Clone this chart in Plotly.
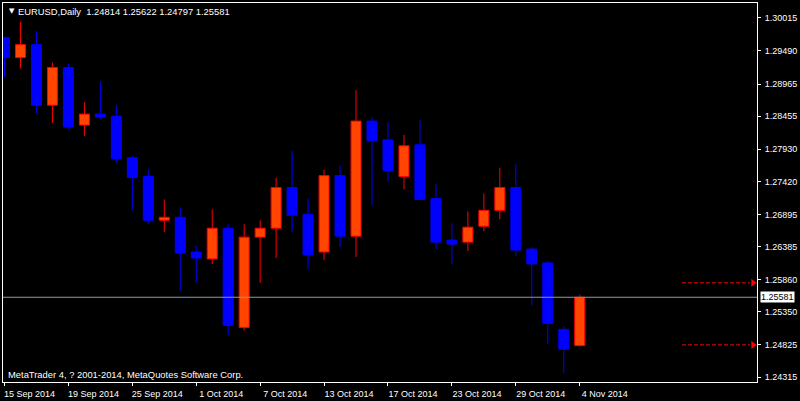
import plotly.graph_objects as go
from datetime import date

# ---- data ----
dates = ["2014-09-15", "2014-09-16", "2014-09-17", "2014-09-18", "2014-09-19",
         "2014-09-22", "2014-09-23", "2014-09-24", "2014-09-25", "2014-09-26",
         "2014-09-29", "2014-09-30", "2014-10-01", "2014-10-02", "2014-10-03",
         "2014-10-06", "2014-10-07", "2014-10-08", "2014-10-09", "2014-10-10",
         "2014-10-13", "2014-10-14", "2014-10-15", "2014-10-16", "2014-10-17",
         "2014-10-20", "2014-10-21", "2014-10-22", "2014-10-23", "2014-10-24",
         "2014-10-27", "2014-10-28", "2014-10-29", "2014-10-30", "2014-10-31",
         "2014-11-03", "2014-11-04"]
opens = [1.29700, 1.29385, 1.29590, 1.28629, 1.29228, 1.28314, 1.28488, 1.28456,
         1.27795, 1.27496, 1.26803, 1.26850, 1.26299, 1.26189, 1.26677, 1.25102,
         1.26535, 1.26677, 1.27322, 1.26897, 1.26299, 1.27511, 1.26551, 1.28377,
         1.28078, 1.27496, 1.28000, 1.27149, 1.26488, 1.26456, 1.26708, 1.26960,
         1.27322, 1.26346, 1.26126, 1.25071, 1.24814]
highs = [1.29716, 1.29952, 1.29810, 1.29306, 1.29291, 1.28677, 1.29007, 1.28629,
         1.27826, 1.27606, 1.27133, 1.27008, 1.26393, 1.26976, 1.26740, 1.26740,
         1.26803, 1.27480, 1.27905, 1.27149, 1.27606, 1.27669, 1.28866, 1.28440,
         1.28362, 1.28157, 1.28393, 1.27385, 1.26756, 1.26945, 1.27228, 1.27637,
         1.27700, 1.26378, 1.26157, 1.25118, 1.25622]
lows = [1.29070, 1.29212, 1.28503, 1.28346, 1.28251, 1.28141, 1.28409, 1.27716,
        1.26960, 1.26740, 1.26614, 1.25685, 1.25811, 1.26110, 1.24976, 1.25055,
        1.25811, 1.26204, 1.26614, 1.26031, 1.26173, 1.26378, 1.26220, 1.27039,
        1.27417, 1.27291, 1.27118, 1.26346, 1.26110, 1.26315, 1.26630, 1.26819,
        1.26236, 1.25449, 1.24835, 1.24378, 1.24797]
closes = [1.29385, 1.29590, 1.28629, 1.29228, 1.28283, 1.28488, 1.28440, 1.27779,
          1.27480, 1.26803, 1.26850, 1.26283, 1.26204, 1.26677, 1.25134, 1.26535,
          1.26677, 1.27322, 1.26882, 1.26252, 1.27511, 1.26551, 1.28377, 1.28062,
          1.27590, 1.27984, 1.27133, 1.26456, 1.26425, 1.26693, 1.26960, 1.27322,
          1.26330, 1.26110, 1.25165, 1.24756, 1.25581]
price_ticks = [1.30015, 1.29490, 1.28965, 1.28455, 1.27930, 1.27420, 1.26895,
               1.26385, 1.25860, 1.25350, 1.24825, 1.24315]
arrow_levels = [1.25810, 1.24825]
symbol = "EURUSD"
timeframe = "Daily"
copyright_text = "MetaTrader 4, ? 2001-2014, MetaQuotes Software Corp."

# ---- styling ----
BULL_FILL = "#FF4500"
BULL_LINE = "#FF0000"
BEAR = "#0000FF"
FONT = "Liberation Sans, Arial, sans-serif"
W, H = 800, 401
L_M, R_M, T_M, B_M = 2, 43, 2, 17
PX_PER_BAR = 16.0
plot_w = W - L_M - R_M
plot_h = H - T_M - B_M
x0 = -1.5 / PX_PER_BAR
x1 = x0 + plot_w / PX_PER_BAR
y_lo, y_hi = 1.24236, 1.30251

n = len(dates)
xs = list(range(n))

def px_x(px):
    return (px - L_M) / plot_w

def px_y(py):
    return (H - B_M - py) / plot_h

fig = go.Figure()

# wicks (split so they never cross the bodies)
for bull, color in ((True, BULL_LINE), (False, BEAR)):
    wx, wy = [], []
    for i in xs:
        o, h, l, c = opens[i], highs[i], lows[i], closes[i]
        if (c >= o) != bull:
            continue
        top, bot = max(o, c), min(o, c)
        wx += [i, i, None, i, i, None]
        wy += [h, top, None, bot, l, None]
    fig.add_trace(go.Scatter(x=wx, y=wy, mode="lines",
                             line=dict(color=color, width=1),
                             hoverinfo="skip", showlegend=False))

# bodies
for bull, fill, line in ((True, BULL_FILL, BULL_LINE), (False, BEAR, BEAR)):
    bx, bbase, bh = [], [], []
    for i in xs:
        o, c = opens[i], closes[i]
        if (c >= o) != bull:
            continue
        bx.append(i)
        bbase.append(min(o, c))
        bh.append(max(abs(c - o), 0.00002))
    fig.add_trace(go.Bar(x=bx, y=bh, base=bbase, width=0.625,
                         marker=dict(color=fill, line=dict(color=line, width=1)),
                         hoverinfo="skip", showlegend=False))

# red dashed arrows
for lvl in arrow_levels:
    fig.add_trace(go.Scatter(x=[42.4, 46.65], y=[lvl, lvl], mode="lines",
                             line=dict(color="#FF0000", width=1, dash="4px,2px"),
                             hoverinfo="skip", showlegend=False))
    fig.add_trace(go.Scatter(x=[46.85], y=[lvl], mode="markers",
                             marker=dict(symbol="triangle-right", size=7, color="#FF0000"),
                             hoverinfo="skip", showlegend=False))

last_close = closes[-1]
# current price line
fig.add_shape(type="line", xref="paper", yref="y", x0=0, x1=1,
              y0=last_close, y1=last_close,
              line=dict(color="#8E99A4", width=1))

tick_idx = list(range(0, n, 4))
tick_text = [date.fromisoformat(dates[i]).strftime("%d %b %Y").lstrip("0") for i in tick_idx]

fig.update_layout(
    width=W, height=H,
    margin=dict(l=L_M, r=R_M, t=T_M, b=B_M, pad=0),
    paper_bgcolor="black", plot_bgcolor="black",
    barmode="overlay", bargap=0,
    font=dict(family=FONT, size=9, color="white"),
    showlegend=False,
    hovermode=False,
    xaxis=dict(range=[x0, x1], tickvals=tick_idx, ticktext=tick_text,
               showgrid=False, zeroline=False, showline=True, mirror=True,
               linecolor="white", linewidth=1,
               ticks="outside", ticklen=3, tickcolor="white", tickwidth=1,
               ticklabelshift=25, ticklabelstandoff=0,
               tickfont=dict(family=FONT, size=9, color="white")),
    yaxis=dict(range=[y_lo, y_hi], side="right", tickvals=price_ticks,
               ticktext=[f"{v:.5f}" for v in price_ticks],
               showgrid=False, zeroline=False, showline=True, mirror=True,
               linecolor="white", linewidth=1,
               ticks="outside", ticklen=3, tickcolor="white", tickwidth=1,
               ticklabelstandoff=2,
               tickfont=dict(family=FONT, size=9, color="white")),
)

# header
fig.add_annotation(xref="paper", yref="paper", x=px_x(6), y=px_y(10),
                   xanchor="left", yanchor="middle", showarrow=False,
                   text="▼", font=dict(family="DejaVu Sans", size=7, color="white"))
fig.add_annotation(xref="paper", yref="paper", x=px_x(15), y=px_y(10.5),
                   xanchor="left", yanchor="middle", showarrow=False,
                   text=f"{symbol},{timeframe}  {opens[-1]:.5f} {highs[-1]:.5f} {lows[-1]:.5f} {closes[-1]:.5f}",
                   font=dict(family=FONT, size=9.4, color="white"))
# copyright
fig.add_annotation(xref="paper", yref="paper", x=px_x(5), y=px_y(376),
                   xanchor="left", yanchor="middle", showarrow=False,
                   text=copyright_text, font=dict(family=FONT, size=9.4, color="white"))
# current price label
fig.add_annotation(xref="paper", yref="y", x=px_x(760), y=last_close,
                   xanchor="left", yanchor="middle", showarrow=False,
                   text=f"{last_close:.5f}", bgcolor="white", borderpad=0,
                   font=dict(family=FONT, size=9, color="black"))

fig.write_html("out.html", config={"displayModeBar": False, "staticPlot": True},
               post_script="document.body.style.margin='0';document.body.style.background='black';")
